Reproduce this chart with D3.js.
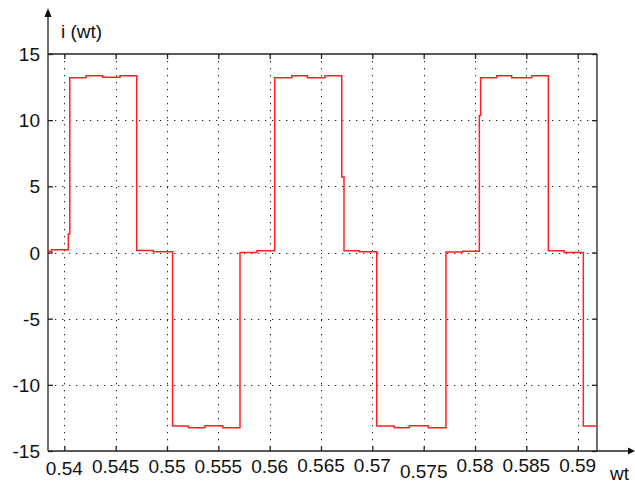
<!DOCTYPE html>
<html><head><meta charset="utf-8">
<script src="https://cdn.jsdelivr.net/npm/d3@7"></script>
<style>html,body{margin:0;padding:0;background:#fff;}svg{display:block;}</style>
</head><body>
<script>
// step start times (wt) and current values i(wt)
const times = [0.53841,0.53877,0.54039,0.54053,0.54211,0.54374,0.54543,0.54705,0.54867,
  0.55054,0.55208,0.55370,0.55543,0.55711,0.55877,
  0.56049,0.56215,0.56367,0.56539,0.56702,0.56724,0.56873,
  0.57043,0.57214,0.57360,0.57545,0.57717,0.57880,
  0.58042,0.58055,0.58211,0.58357,0.58552,0.58714,0.58867,
  0.59055,0.59188];
const currents = [0.1,0.2,1.4,13.2,13.35,13.25,13.35,0.15,0.05,
  -13.12,-13.25,-13.1,-13.25,0.0,0.13,
  13.2,13.35,13.2,13.35,5.7,0.13,0.05,
  -13.12,-13.25,-13.1,-13.25,0.03,0.1,
  10.35,13.2,13.35,13.2,13.35,0.13,0.0,
  -13.12,-13.12];
const xTicks = [0.54,0.545,0.55,0.555,0.56,0.565,0.57,0.575,0.58,0.585,0.59];
const xTickLabels = ["0.54","0.545","0.55","0.555","0.56","0.565","0.57","0.575","0.58","0.585","0.59"];
const yTicks = [-15,-10,-5,0,5,10,15];
const yTickLabels = ["-15","-10","-5","0","5","10","15"];
const xDomain = [0.53841, 0.59188];
const yDomain = [-15, 15];
const yLabel = "i (wt)";
const xLabel = "wt";

const W = 635, H = 485;
const L = 48, R = 597, T = 54, B = 451;
const svg = d3.select("body").append("svg").attr("width", W).attr("height", H);
const x = d3.scaleLinear().domain(xDomain).range([L, R]);
const y = d3.scaleLinear().domain(yDomain).range([B, T]);
const font = "'Liberation Sans', Arial, sans-serif";

// grid
const grid = svg.append("g").attr("stroke", "#222").attr("stroke-width", 1).attr("stroke-dasharray", "1.3,5.7");
grid.selectAll("line.vx").data(xTicks).join("line")
  .attr("x1", d => Math.round(x(d)) + 0.5).attr("x2", d => Math.round(x(d)) + 0.5)
  .attr("y1", T).attr("y2", B);
grid.selectAll("line.hy").data(yTicks.slice(1, -1)).join("line")
  .attr("y1", d => Math.round(y(d)) + 0.5).attr("y2", d => Math.round(y(d)) + 0.5)
  .attr("x1", L).attr("x2", R);

// axes with inner ticks
const tickLen = 5;
const ax = svg.append("g").attr("stroke", "#222").attr("stroke-width", 1.3).attr("fill", "none");
ax.append("line").attr("x1", L).attr("x2", L).attr("y1", 14).attr("y2", B);
ax.append("line").attr("x1", L).attr("x2", 631).attr("y1", B).attr("y2", B);
ax.append("line").attr("x1", L).attr("x2", R).attr("y1", T).attr("y2", T);
ax.append("line").attr("x1", R).attr("x2", R).attr("y1", T).attr("y2", B);
svg.append("path").attr("d", `M${L},8 L${L-3.5},17 L${L+3.5},17 Z`).attr("fill", "#111");
svg.append("path").attr("d", `M635,${B} L628,${B-3.5} L628,${B+3.5} Z`).attr("fill", "#111");

const bottomAxis = d3.axisBottom(x).tickValues(xTicks).tickSize(-tickLen).tickFormat("");
const topAxis = d3.axisTop(x).tickValues(xTicks).tickSize(-tickLen).tickFormat("");
const leftAxis = d3.axisLeft(y).tickValues(yTicks).tickSize(-tickLen).tickFormat("");
const rightAxis = d3.axisRight(y).tickValues(yTicks).tickSize(-tickLen).tickFormat("");
[[bottomAxis, `translate(0,${B})`], [topAxis, `translate(0,${T})`],
 [leftAxis, `translate(${L},0)`], [rightAxis, `translate(${R},0)`]].forEach(([a, tr]) => {
  const g = svg.append("g").attr("transform", tr).call(a);
  g.select(".domain").remove();
  g.selectAll(".tick line").attr("stroke", "#222").attr("stroke-width", 1.3);
});

// tick labels
const lblDy = {"0.54": 2, "0.575": 5, "0.565": -1, "0.57": -1, "0.58": -1, "0.585": -1, "0.59": -1};
svg.append("g").selectAll("text").data(xTicks).join("text")
  .attr("x", d => x(d)).attr("y", (d, i) => 473 + (lblDy[xTickLabels[i]] || 0))
  .attr("text-anchor", "middle").attr("font-family", font).attr("font-size", 19)
  .attr("fill", "#111").text((d, i) => xTickLabels[i]);
svg.append("g").selectAll("text").data(yTicks).join("text")
  .attr("x", 40).attr("y", d => y(d) + 7)
  .attr("text-anchor", "end").attr("font-family", font).attr("font-size", 19)
  .attr("fill", "#111").text((d, i) => yTickLabels[i]);
svg.append("text").attr("x", 61).attr("y", 38).attr("font-family", font).attr("font-size", 19)
  .attr("fill", "#111").text(yLabel);
svg.append("text").attr("x", 610).attr("y", 480).attr("font-family", font).attr("font-size", 19)
  .attr("fill", "#111").text(xLabel);

// waveform
const pts = times.map((t, i) => [t, currents[i]]);
const line = d3.line().x(d => x(d[0])).y(d => y(d[1])).curve(d3.curveStepAfter);
svg.append("path").datum(pts).attr("d", line).attr("fill", "none")
  .attr("stroke", "#ff2020").attr("stroke-width", 1.5);
</script>
</body></html>
